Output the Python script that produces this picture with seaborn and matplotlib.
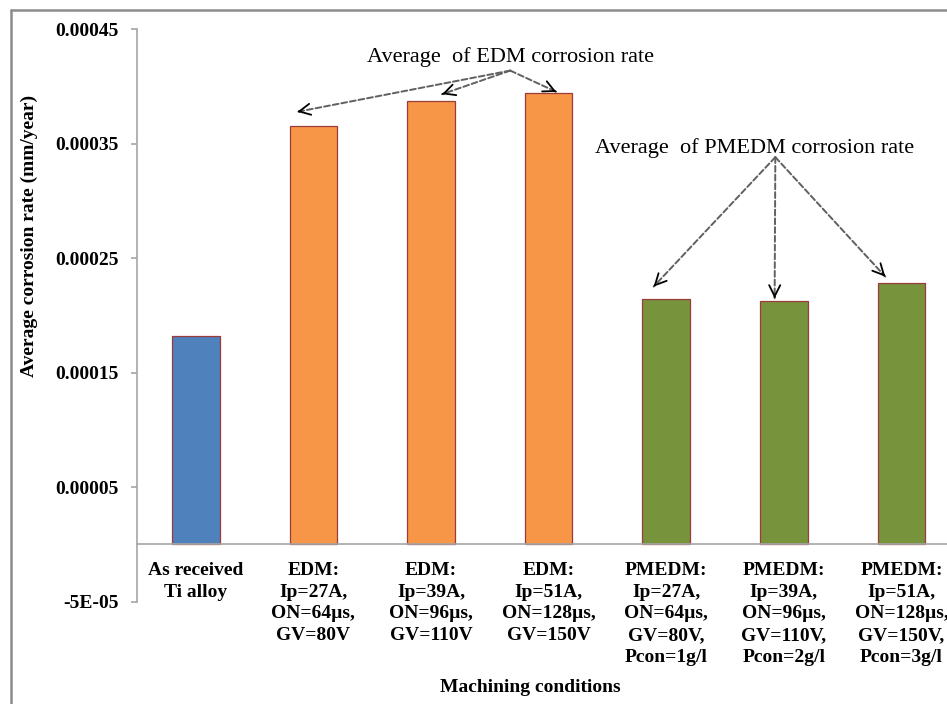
import matplotlib
matplotlib.use("Agg")
import matplotlib.pyplot as plt
import seaborn as sns
import pandas as pd
from matplotlib.lines import Line2D

# Machining conditions and measured average corrosion rates (mm/year)
conditions = [
    "As received\nTi alloy",
    "EDM:\nIp=27A,\nON=64µs,\nGV=80V",
    "EDM:\nIp=39A,\nON=96µs,\nGV=110V",
    "EDM:\nIp=51A,\nON=128µs,\nGV=150V",
    "PMEDM:\nIp=27A,\nON=64µs,\nGV=80V,\nPcon=1g/l",
    "PMEDM:\nIp=39A,\nON=96µs,\nGV=110V,\nPcon=2g/l",
    "PMEDM:\nIp=51A,\nON=128µs,\nGV=150V,\nPcon=3g/l",
]
rates = [0.0001820, 0.0003657, 0.0003870, 0.0003940, 0.0002141, 0.0002123, 0.0002283]
process = ["As received", "EDM", "EDM", "EDM", "PMEDM", "PMEDM", "PMEDM"]
process_colors = {"As received": "#4F81BD", "EDM": "#F79646", "PMEDM": "#77933C"}

y_ticks = [-0.00005, 0.00005, 0.00015, 0.00025, 0.00035, 0.00045]
y_tick_labels = ["-5E-05", "0.00005", "0.00015", "0.00025", "0.00035", "0.00045"]

df = pd.DataFrame({"condition": conditions, "rate": rates, "process": process})

sns.set_style("white")
plt.rcParams["font.family"] = ["Liberation Serif", "DejaVu Serif"]
plt.rcParams["text.color"] = "black"
plt.rcParams["xtick.labelcolor"] = "black"
plt.rcParams["ytick.labelcolor"] = "black"

W, H = 947, 704
fig = plt.figure(figsize=(W / 100, H / 100), dpi=100)
ax = fig.add_axes([137 / W, 1 - 601.7 / H, 823.2 / W, (601.7 - 29) / H])

sns.barplot(data=df, x="condition", y="rate", hue="process", palette=process_colors,
            dodge=False, width=0.405, saturation=1, edgecolor="#9B3B3B", linewidth=0.9,
            legend=False, ax=ax)

# Category axis sits on the zero line
for side in ("top", "right"):
    ax.spines[side].set_visible(False)
ax.spines["bottom"].set_position(("data", 0))
ax.spines["left"].set_color("#A6A6A6")
ax.spines["left"].set_linewidth(1.2)
ax.spines["bottom"].set_color("#A6A6A6")
ax.spines["bottom"].set_linewidth(1.2)

ax.set_xlim(-0.5, 6.5)
ax.set_ylim(-0.00005, 0.00045)
ax.set_yticks(y_ticks)
ax.set_yticklabels(y_tick_labels, fontsize=14, fontweight="bold")
ax.set_xticks(range(len(conditions)))
ax.set_xticklabels(conditions, fontsize=14, fontweight="bold", linespacing=1.37)
ax.set_xlabel("")
ax.set_ylabel("")
ax.tick_params(axis="y", length=4, width=1.2, color="#A6A6A6", pad=9, direction="out", left=True)
ax.tick_params(axis="x", length=0, pad=12.5)

fig.text(29 / W, 1 - 235.5 / H, "Average corrosion rate (mm/year)", rotation=90,
         ha="center", va="center", fontsize=14, fontweight="bold")
fig.text(530 / W, 1 - 691.7 / H, "Machining conditions", ha="center", va="baseline",
         fontsize=14, fontweight="bold")

# Dashed pointer arrows from the group captions to the bars
shaft_style = dict(arrowstyle="-", linestyle=(0, (3, 1.5)), color="#606060", lw=1.4,
                   shrinkA=0, shrinkB=0)
head_style = dict(arrowstyle="->", color="black", lw=1.3, mutation_scale=20,
                  shrinkA=0, shrinkB=0)


def pointer(origin, tip):
    ax.annotate("", xy=tip, xytext=origin, arrowprops=shaft_style)
    back = (tip[0] + 0.01 * (origin[0] - tip[0]), tip[1] + 0.01 * (origin[1] - tip[1]))
    ax.annotate("", xy=tip, xytext=back, arrowprops=head_style)


ax.text(1.456, 0.0004216, "Average  of EDM corrosion rate", fontsize=16, va="baseline", ha="left")
edm_origin = (2.674, 0.0004137)
for tip in [(0.863, 0.0003777), (2.094, 0.0003931), (3.066, 0.0003951)]:
    pointer(edm_origin, tip)

ax.text(3.397, 0.0003416, "Average  of PMEDM corrosion rate", fontsize=16, va="baseline", ha="left")
pm_origin = (4.928, 0.0003381)
for tip in [(3.893, 0.0002251), (4.922, 0.0002149), (5.863, 0.0002338)]:
    pointer(pm_origin, tip)

# Chart frame
fig.add_artist(Line2D([10.5 / W, 10.5 / W], [0, 1 - 10 / H], transform=fig.transFigure,
                      color="#8C8C8C", lw=1.8))
fig.add_artist(Line2D([10.5 / W, 1], [1 - 10 / H, 1 - 10 / H], transform=fig.transFigure,
                      color="#8C8C8C", lw=1.8))

fig.savefig("out.png", dpi=100, facecolor="white")
